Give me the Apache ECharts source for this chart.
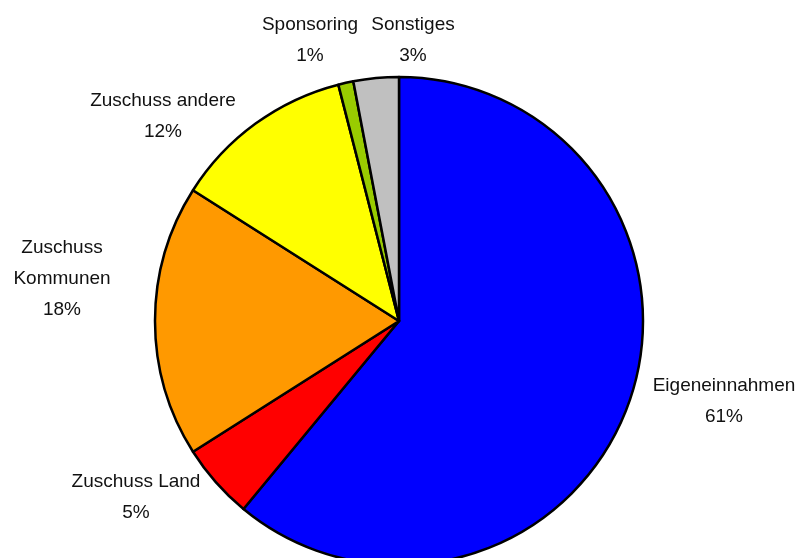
<!DOCTYPE html>
<html>
<head>
<meta charset="utf-8">
<script src="https://cdn.jsdelivr.net/npm/echarts@6/dist/echarts.min.js"></script>
<style>
  html, body { margin: 0; padding: 0; background: #ffffff; }
  #chart { width: 800px; height: 558px; }
</style>
</head>
<body>
<div id="chart"></div>
<script>
// Budget shares, clockwise from 12 o'clock
const categories = ['Eigeneinnahmen', 'Zuschuss Land', 'Zuschuss\nKommunen', 'Zuschuss andere', 'Sponsoring', 'Sonstiges'];
const shares = [61, 5, 18, 12, 1, 3];
const sliceColors = ['#0000FF', '#FF0000', '#FF9900', '#FFFF00', '#99CC00', '#C0C0C0'];

// Centre point of each label block (px)
const labelCenters = [[724, 401], [136, 497], [62, 279], [163, 116], [310, 40], [413, 40]];

const chart = echarts.init(document.getElementById('chart'), null, { renderer: 'canvas' });

chart.setOption({
  backgroundColor: '#ffffff',
  animation: false,
  series: [{
    type: 'pie',
    center: [399, 321],
    radius: 244,
    startAngle: 90,
    clockwise: true,
    avoidLabelOverlap: false,
    data: categories.map((name, i) => ({
      name: name,
      value: shares[i],
      itemStyle: { color: sliceColors[i] }
    })),
    itemStyle: { borderColor: '#000000', borderWidth: 2.5 },
    emphasis: { disabled: true },
    label: {
      show: true,
      position: 'outside',
      formatter: p => p.name + '\n' + p.value + '%',
      fontFamily: '"Liberation Sans", Arial, sans-serif',
      fontSize: 19,
      lineHeight: 31,
      color: '#111111',
      align: 'center'
    },
    labelLine: { show: false },
    labelLayout: params => {
      const c = labelCenters[params.dataIndex];
      return { x: c[0], y: c[1], align: 'center', verticalAlign: 'middle' };
    }
  }]
});
</script>
</body>
</html>
